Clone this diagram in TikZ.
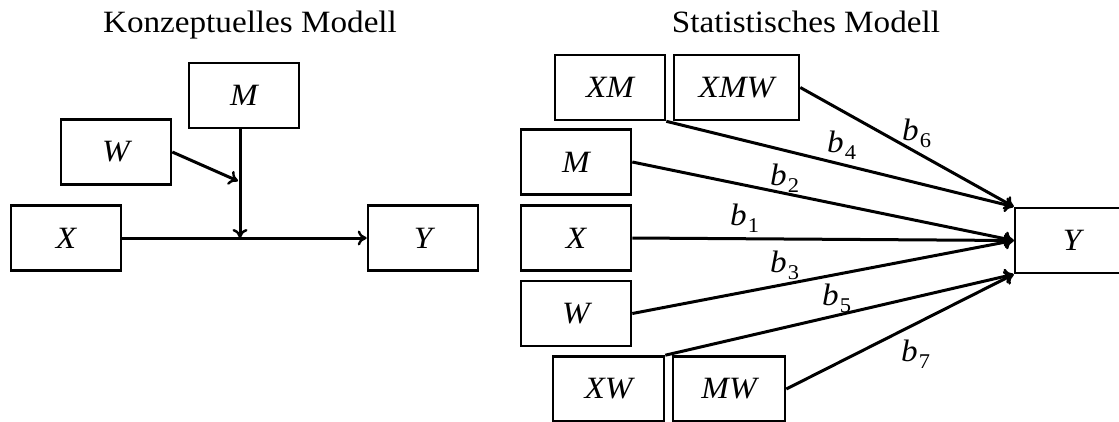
\documentclass[tikz,border=0pt]{standalone}
\usepackage{fontspec}
\setmainfont{Liberation Serif}[FakeStretch=1.07]
\usetikzlibrary{arrows.meta}
\newcommand\bsub[1]{\textit{b}\kern1pt\raisebox{-7pt}{\fontsize{21}{25}\selectfont #1}}
\begin{document}
\begin{tikzpicture}[x=1pt,y=-1pt,
  box/.style={draw,line width=2.6pt,inner sep=0pt,minimum height=65pt,
    font=\fontsize{31}{37}\selectfont\itshape},
  ttl/.style={font=\fontsize{31}{37}\selectfont,inner sep=0pt,anchor=base},
  lab/.style={font=\fontsize{31}{37}\selectfont,inner sep=0pt,anchor=base west},
  conn/.style={line width=3pt,-{To[length=9pt,width=15pt,line width=2.4pt]}}
]
\useasboundingbox (0,0) rectangle (1119,421);
% ---- left: conceptual model
\node[ttl] (t1) at (250,32) {Konzeptuelles Modell};
\node[box,minimum width=110pt] (lM) at (244,95.5) {M};
\node[box,minimum width=110pt] (lW) at (116,152) {W};
\node[box,minimum width=110pt] (lX) at (66,238) {X};
\node[box,minimum width=110pt] (lY) at (423,238) {Y};
\coordinate (cross) at (240,238);
\coordinate (wt) at (238,181);
\draw[conn] (lX.east) -- (lY.west);
\draw[conn] (lM.south -| cross) -- (cross);
\draw[conn] (lW.east) -- (wt);
% ---- right: statistical model
\node[ttl] (t2) at (806,32) {Statistisches Modell};
\node[box,minimum width=110pt] (XM) at (610,87.5) {XM};
\node[box,minimum width=125pt] (XMW) at (736.5,87.5) {XMW};
\node[box,minimum width=110pt] (M) at (576,162) {M};
\node[box,minimum width=110pt] (X) at (576,238) {X};
\node[box,minimum width=110pt] (W) at (576,313.5) {W};
\node[box,minimum width=111pt] (XW) at (608.5,389) {XW};
\node[box,minimum width=112pt] (MW) at (729,389) {MW};
\node[box,minimum width=114pt] (Y) at (1072,240.5) {Y};
\draw[conn] (XM.south east) -- (Y.north west);
\draw[conn] (XMW.east) -- (Y.north west);
\draw[conn] (M.east) -- (Y.west);
\draw[conn] (X.east) -- (Y.west);
\draw[conn] (W.east) -- (Y.west);
\draw[conn] (XW.north east) -- (Y.south west);
\draw[conn] (MW.east) -- (Y.south west);
\node[lab] (b1) at (730,225) {\bsub{1}};
\node[lab] (b2) at (770,185) {\bsub{2}};
\node[lab] (b3) at (770,272) {\bsub{3}};
\node[lab] (b4) at (827,152) {\bsub{4}};
\node[lab] (b5) at (822,305) {\bsub{5}};
\node[lab] (b6) at (902,140) {\bsub{6}};
\node[lab] (b7) at (901,361) {\bsub{7}};
\end{tikzpicture}
\end{document}
